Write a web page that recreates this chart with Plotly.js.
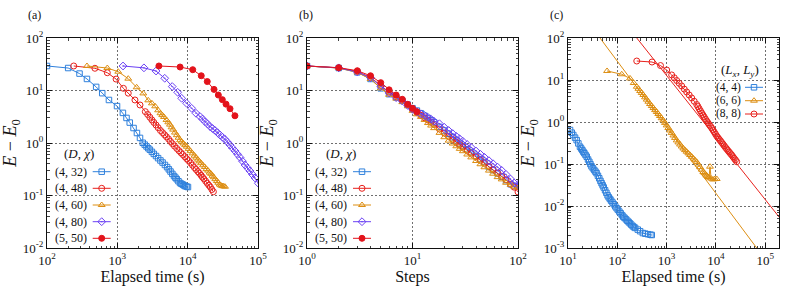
<!DOCTYPE html>
<html><head><meta charset="utf-8">
<script src="https://cdn.plot.ly/plotly-3.0.1.min.js"></script>
<style>html,body{margin:0;padding:0;background:#fff;} #chart{width:788px;height:296px;}</style>
</head><body><div id="chart"></div>
<script>
// ---------------- DATA ----------------
// Legend labels
const labelsD = ['(4, 32)', '(4, 48)', '(4, 60)', '(4, 80)', '(5, 50)'];
const labelsL = ['(4, 4)', '(6, 6)', '(8, 8)'];

// Panel (a): elapsed time (s) vs E - E0
const aT432 = [100, 200, 290, 370, 500, 610, 760, 990, 1200, 1350, 1500, 1700, 1900, 2100, 2300, 2450, 2600, 2750, 2900, 3100, 3300, 3550, 3800, 4100, 4400, 4750, 5100, 5400, 5700, 6050, 6400, 6700, 7000, 7400, 7800, 8150, 8500, 8850, 9200, 9650, 10100];
const aE432 = [29.3, 26.8, 21, 16.6, 11.7, 8.9, 6.6, 5.05, 3.75, 3.0, 2.45, 1.93, 1.55, 1.25, 1.01, 0.93, 0.86, 0.796, 0.745, 0.679, 0.62, 0.565, 0.514, 0.465, 0.424, 0.382, 0.347, 0.315, 0.286, 0.258, 0.235, 0.219, 0.204, 0.187, 0.173, 0.167, 0.162, 0.156, 0.151, 0.148, 0.145];
const aT448 = [240, 480, 720, 960, 1220, 1430, 1780, 2100, 2500, 2700, 2900, 3100, 3300, 3550, 3800, 4100, 4400, 4700, 5000, 5350, 5700, 6100, 6500, 7000, 7500, 8000, 8500, 9100, 9700, 10300, 11000, 11700, 12500, 13200, 14000, 14700, 15500, 16200, 17000, 18000, 19000, 20000, 21000, 22100, 23200];
const aE448 = [29.3, 26.5, 21.8, 16.5, 11.0, 8.9, 6.6, 5.3, 3.95, 3.5, 3.09, 2.75, 2.47, 2.2, 1.96, 1.73, 1.57, 1.43, 1.31, 1.19, 1.07, 0.966, 0.873, 0.787, 0.715, 0.655, 0.603, 0.548, 0.50, 0.46, 0.417, 0.378, 0.34, 0.312, 0.285, 0.265, 0.243, 0.224, 0.208, 0.188, 0.171, 0.157, 0.145, 0.130, 0.118];
const aT460 = [370, 720, 1030, 1430, 1880, 2340, 2750, 3100, 3450, 3800, 4100, 4350, 4600, 5000, 5300, 5600, 5900, 6200, 6600, 7000, 7400, 7800, 8200, 8700, 9200, 9700, 10300, 11000, 11700, 12500, 13200, 14000, 14700, 15500, 16500, 17500, 18500, 19500, 20500, 21500, 22500, 23500, 24700, 26000, 27200, 28500, 29700, 31000, 32500, 34000];
const aE460 = [29.3, 26.8, 22.8, 16.8, 11.5, 8.8, 6.5, 5.7, 5.0, 4.2, 3.69, 3.4, 3.13, 2.75, 2.48, 2.24, 1.99, 1.8, 1.58, 1.41, 1.26, 1.13, 1.06, 0.98, 0.91, 0.85, 0.773, 0.7, 0.635, 0.573, 0.526, 0.482, 0.447, 0.413, 0.377, 0.349, 0.318, 0.298, 0.273, 0.259, 0.238, 0.223, 0.205, 0.189, 0.175, 0.162, 0.156, 0.151, 0.150, 0.147];
const aT480 = [1205, 2390, 3550, 4720, 6030, 7210, 8220, 9680, 11400, 13140, 14970, 16250, 17650, 19170, 20790, 22580, 24490, 26590, 28850, 31280, 33980, 36830, 40020, 43450, 47130, 51150, 55500, 60200, 65370, 70900, 76900, 83500, 90600, 101000];
const aE480 = [29.3, 27.0, 23.5, 17.1, 11.9, 9.24, 7.1, 5.7, 4.58, 3.68, 3.2, 2.86, 2.55, 2.30, 2.06, 1.89, 1.73, 1.57, 1.42, 1.29, 1.17, 1.04, 0.916, 0.80, 0.705, 0.61, 0.53, 0.45, 0.381, 0.334, 0.293, 0.251, 0.216, 0.171];
const aT550 = [3900, 7800, 11800, 15600, 19000, 23700, 27300, 31100, 35100, 40000, 47000];
const aE550 = [29.3, 28, 24.9, 19.1, 14.8, 10.5, 8.2, 6.7, 5.5, 4.5, 3.3];

// Panel (b): optimisation steps vs E - E0
const bSteps = [1, 2, 3, 4, 5, 6, 7, 8, 9, 10, 11, 12, 13, 14, 15, 16, 18, 20, 22, 24, 26, 28, 30, 33, 36, 40, 44, 48, 53, 58, 64, 70, 77, 85, 92, 100];
const bE432 = [29.3, 26.8, 22.2, 16.6, 11.0, 8.5, 7.4, 6.4, 5.4, 4.6, 4.14, 3.69, 3.31, 2.99, 2.72, 2.48, 2.03, 1.73, 1.50, 1.29, 1.12, 0.975, 0.879, 0.760, 0.670, 0.571, 0.495, 0.435, 0.350, 0.305, 0.263, 0.228, 0.196, 0.164, 0.151, 0.146];
const bE448 = [29.3, 27.0, 23.0, 17.8, 12.5, 9.3, 7.6, 6.5, 5.3, 4.4, 3.78, 3.37, 3.02, 2.73, 2.48, 2.26, 1.85, 1.55, 1.34, 1.17, 1.04, 0.931, 0.839, 0.726, 0.640, 0.546, 0.473, 0.415, 0.358, 0.313, 0.269, 0.233, 0.200, 0.164, 0.144, 0.117];
const bE460 = [29.3, 26.8, 22.0, 16.5, 11.0, 8.3, 7.0, 6.0, 5.0, 4.1, 3.52, 3.14, 2.75, 2.40, 2.15, 1.92, 1.56, 1.29, 1.11, 0.977, 0.867, 0.774, 0.698, 0.604, 0.532, 0.454, 0.394, 0.345, 0.298, 0.260, 0.224, 0.203, 0.175, 0.160, 0.147, 0.141];
const bE480 = [29.3, 27.0, 22.5, 17.5, 12.0, 9.0, 7.3, 6.3, 5.2, 4.4, 3.95, 3.6, 3.35, 3.08, 2.84, 2.59, 2.33, 1.99, 1.73, 1.51, 1.34, 1.20, 1.08, 0.935, 0.824, 0.703, 0.610, 0.535, 0.461, 0.403, 0.347, 0.301, 0.252, 0.206, 0.173, 0.162];
const bSteps550 = [1, 2, 3, 4, 5, 6, 7, 8, 9, 10, 11];
const bE550 = [29.3, 27.2, 23.8, 19.1, 14.1, 10.3, 8.2, 6.8, 5.46, 4.58, 3.94];

// Panel (c): elapsed time (s) vs E - E0 for lattice sizes
const cT44 = [11.0, 11.9, 12.8, 13.9, 15.0, 16.2, 17.5, 18.5, 19.5, 20.5, 21.5, 22.7, 24, 25.5, 27, 28.5, 30, 32, 34, 36, 38, 40.5, 43, 45.5, 48, 50.5, 53, 56.5, 60, 63.5, 67, 71, 75, 80, 85, 91, 97, 103, 110, 117, 125, 132, 140, 150, 160, 170, 180, 192, 205, 217, 230, 260, 290, 330, 370, 420, 470, 500];
const cE44 = [0.645, 0.557, 0.49, 0.424, 0.37, 0.309, 0.258, 0.234, 0.214, 0.195, 0.18, 0.164, 0.149, 0.128, 0.113, 0.0993, 0.088, 0.0792, 0.072, 0.0659, 0.0605, 0.0524, 0.0457, 0.0396, 0.0349, 0.031, 0.0276, 0.0237, 0.0206, 0.0179, 0.0161, 0.0147, 0.0134, 0.0121, 0.011, 0.0098, 0.00885, 0.0081, 0.00735, 0.0067, 0.00605, 0.00557, 0.00521, 0.00481, 0.00446, 0.00415, 0.00388, 0.0036, 0.00333, 0.00315, 0.00301, 0.00274, 0.00251, 0.00227, 0.00219, 0.00213, 0.00207, 0.00204];
const cT66 = [62, 123, 181, 215, 248, 268, 290, 312, 337, 365, 395, 426, 460, 499, 540, 583, 630, 678, 730, 790, 857, 925, 1000, 1083, 1172, 1265, 1370, 1480, 1600, 1730, 1870, 2020, 2180, 2360, 2550, 2760, 2985, 3230, 3500, 3780, 4080, 4420, 4780, 5150, 5550, 5850, 6200, 6550, 6920, 7250, 7590, 8000, 8730, 9500, 10380];
const cE66 = [16.4, 13.7, 10.9, 8.49, 6.92, 6.17, 5.48, 4.92, 4.40, 3.87, 3.41, 3.04, 2.68, 2.40, 2.15, 1.92, 1.73, 1.55, 1.39, 1.23, 1.09, 0.951, 0.83, 0.721, 0.628, 0.55, 0.478, 0.418, 0.365, 0.326, 0.291, 0.261, 0.234, 0.214, 0.196, 0.179, 0.164, 0.149, 0.135, 0.123, 0.112, 0.097, 0.0843, 0.0736, 0.0646, 0.0604, 0.0562, 0.0525, 0.049, 0.0476, 0.0863, 0.045, 0.0428, 0.0437, 0.044];
const cT88 = [248, 506, 752, 1005, 1268, 1430, 1603, 1800, 2023, 2280, 2556, 2870, 3230, 3630, 4083, 4330, 4580, 4860, 5150, 5460, 5780, 6130, 6500, 6890, 7300, 7750, 8220, 8710, 9240, 9790, 10380, 11000, 11660, 12360, 13110, 13900, 14730, 15620, 16560, 17560, 18600, 19720, 20900, 22170, 23500, 24900, 26420];
const cE88 = [28.3, 26.8, 22.1, 17.3, 13.2, 11.3, 9.73, 8.37, 7.2, 6.08, 5.18, 4.40, 3.73, 3.12, 2.61, 2.33, 2.07, 1.84, 1.64, 1.47, 1.32, 1.18, 1.06, 0.962, 0.875, 0.794, 0.72, 0.645, 0.577, 0.518, 0.464, 0.425, 0.389, 0.356, 0.325, 0.298, 0.272, 0.248, 0.228, 0.209, 0.193, 0.177, 0.164, 0.149, 0.136, 0.125, 0.1135];
// power-law guide lines in (c)
const fit66T = [44.6, 67300];
const fit66E = [100, 0.001];
const fit88T = [248, 193000];
const fit88E = [100, 0.0054];
const refLevelC = 0.01;

// Tick labels
const tickA_x = [1e2, 1e3, 1e4, 1e5];
const tickA_xText = ['10<sup>2</sup>', '10<sup>3</sup>', '10<sup>4</sup>', '10<sup>5</sup>'];
const tickB_x = [1, 10, 100];
const tickB_xText = ['10<sup>0</sup>', '10<sup>1</sup>', '10<sup>2</sup>'];
const tickC_x = [10, 1e2, 1e3, 1e4, 1e5];
const tickC_xText = ['10<sup>1</sup>', '10<sup>2</sup>', '10<sup>3</sup>', '10<sup>4</sup>', '10<sup>5</sup>'];
const tickAB_y = [0.01, 0.1, 1, 10, 100];
const tickAB_yText = ['10<sup>-2</sup>', '10<sup>-1</sup>', '10<sup>0</sup>', '10<sup>1</sup>', '10<sup>2</sup>'];
const tickC_y = [0.001, 0.01, 0.1, 1, 10, 100];
const tickC_yText = ['10<sup>-3</sup>', '10<sup>-2</sup>', '10<sup>-1</sup>', '10<sup>0</sup>', '10<sup>1</sup>', '10<sup>2</sup>'];

// ---------------- STYLE ----------------
const W = 788, H = 296;
const SERIF = '"Liberation Serif", "Times New Roman", "DejaVu Serif", serif';
const C_BLUE = '#2f80dc', C_RED = '#e8211c', C_ORANGE = '#dd8e12', C_PURPLE = '#6a40f4', C_RED2 = '#e3131b';
const px = v => v / W;
const py = v => 1 - v / H;

function minorVals(lo, hi) {
  const v = [];
  for (let e = lo; e < hi; e++) for (let m = 2; m <= 9; m++) v.push(m * Math.pow(10, e));
  return v;
}

function series(x, y, xa, ya, color, symbol, size, legendId) {
  return {
    type: 'scatter', mode: 'lines+markers', x: x, y: y, xaxis: xa, yaxis: ya,
    name: '', legend: legendId, showlegend: true, hoverinfo: 'skip',
    line: {color: color, width: 1},
    marker: {symbol: symbol, size: size, color: color, line: {color: color, width: 1}}
  };
}

const traces = [
  series(aT432, aE432, 'x', 'y', C_BLUE, 'square-open', 5.5, 'legend'),
  series(aT448, aE448, 'x', 'y', C_RED, 'circle-open', 6, 'legend2'),
  series(aT460, aE460, 'x', 'y', C_ORANGE, 'triangle-up-open', 6, 'legend3'),
  series(aT480, aE480, 'x', 'y', C_PURPLE, 'diamond-open-dot', 6, 'legend4'),
  series(aT550, aE550, 'x', 'y', C_RED2, 'circle', 6, 'legend5'),

  series(bSteps, bE432, 'x2', 'y2', C_BLUE, 'square-open', 5.5, 'legend6'),
  series(bSteps, bE448, 'x2', 'y2', C_RED, 'circle-open', 6, 'legend7'),
  series(bSteps, bE460, 'x2', 'y2', C_ORANGE, 'triangle-up-open', 6, 'legend8'),
  series(bSteps, bE480, 'x2', 'y2', C_PURPLE, 'diamond-open-dot', 6, 'legend9'),
  series(bSteps550, bE550, 'x2', 'y2', C_RED2, 'circle', 6, 'legend10'),

  {type: 'scatter', mode: 'lines', x: fit66T, y: fit66E, xaxis: 'x3', yaxis: 'y3', showlegend: false, hoverinfo: 'skip', line: {color: C_ORANGE, width: 1}},
  {type: 'scatter', mode: 'lines', x: fit88T, y: fit88E, xaxis: 'x3', yaxis: 'y3', showlegend: false, hoverinfo: 'skip', line: {color: C_RED, width: 1}},
  series(cT44, cE44, 'x3', 'y3', C_BLUE, 'square-open', 5.5, 'legend11'),
  series(cT66, cE66, 'x3', 'y3', C_ORANGE, 'triangle-up-open', 6, 'legend12'),
  series(cT88, cE88, 'x3', 'y3', C_RED, 'circle-open', 6, 'legend13')
];

function axis(domain, anchor, range, tv, tt, minorLo, minorHi, title, isY) {
  const a = {
    type: 'log', domain: domain, anchor: anchor, range: range,
    showline: true, linecolor: '#111', linewidth: 1, mirror: 'allticks',
    ticks: 'inside', ticklen: 5, tickwidth: 1, tickcolor: '#111',
    showgrid: true, gridcolor: '#6f6f6f', gridwidth: 1, griddash: '2px,2px',
    zeroline: false, tickmode: 'array', tickvals: tv, ticktext: tt,
    tickfont: {family: SERIF, size: 13, color: '#111'},
    minor: {tickmode: 'array', tickvals: minorVals(minorLo, minorHi), ticks: 'inside', ticklen: 2.5, tickwidth: 0.8, tickcolor: '#111', showgrid: false},
    fixedrange: true
  };
  if (isY) a.title = {text: title, font: {family: SERIF, size: 18, color: '#111'}, standoff: 4};
  else a.title = {text: title, font: {family: SERIF, size: 16, color: '#111'}, standoff: 4};
  return a;
}

const yDom = [py(248), py(38)];
const yTitle = '<i>E</i> − <i>E</i><sub>0</sub>';

const layout = {
  width: W, height: H, autosize: false,
  margin: {l: 0, r: 0, t: 0, b: 0},
  paper_bgcolor: '#fff', plot_bgcolor: '#fff',
  hovermode: false,
  font: {family: SERIF, color: '#111'},
  xaxis: axis([px(47), px(258)], 'y', [2, 5], tickA_x, tickA_xText, 1, 6, 'Elapsed time (s)', false),
  yaxis: axis(yDom, 'x', [-2, 2], tickAB_y, tickAB_yText, -3, 3, yTitle, true),
  xaxis2: axis([px(307), px(518)], 'y2', [0, 2], tickB_x, tickB_xText, -1, 3, 'Steps', false),
  yaxis2: axis(yDom, 'x2', [-2, 2], tickAB_y, tickAB_yText, -3, 3, yTitle, true),
  xaxis3: axis([px(568), px(779)], 'y3', [1, 1 + 211 / 49.3], tickC_x, tickC_xText, 0, 6, 'Elapsed time (s)', false),
  yaxis3: axis(yDom, 'x3', [-3, 2], tickC_y, tickC_yText, -4, 3, yTitle, true),
  shapes: [{type: 'line', xref: 'x3 domain', yref: 'y3', x0: 0, x1: 1, y0: Math.log10(refLevelC), y1: Math.log10(refLevelC), line: {color: '#4a4a4a', width: 1.5}, layer: 'below'}],
  annotations: []
};

// legends: one per entry, symbol placed right of the text label
const rowsAB = [171.7, 188.3, 205, 221.7, 238.3];
const rowsC = [87.3, 100.7, 114];
function mkLegend(markerPx, rowPy) {
  return {x: px(markerPx - 20), y: py(rowPy - 14.5), xanchor: 'left', yanchor: 'top',
          bgcolor: 'rgba(0,0,0,0)', borderwidth: 0, font: {size: 10, family: SERIF}, itemwidth: 30,
          itemclick: false, itemdoubleclick: false};
}
const legendIds = ['legend', 'legend2', 'legend3', 'legend4', 'legend5', 'legend6', 'legend7', 'legend8', 'legend9', 'legend10', 'legend11', 'legend12', 'legend13'];
for (let i = 0; i < 5; i++) layout[legendIds[i]] = mkLegend(101.7, rowsAB[i]);
for (let i = 0; i < 5; i++) layout[legendIds[5 + i]] = mkLegend(362, rowsAB[i]);
for (let i = 0; i < 3; i++) layout[legendIds[10 + i]] = mkLegend(754, rowsC[i]);

function ann(text, x, y, xanchor, size) {
  return {text: text, x: px(x), y: py(y), xref: 'paper', yref: 'paper', xanchor: xanchor, yanchor: 'middle',
          showarrow: false, font: {family: SERIF, size: size, color: '#111'}};
}
for (let i = 0; i < 5; i++) {
  layout.annotations.push(ann(labelsD[i], 89, rowsAB[i], 'right', 12));
  layout.annotations.push(ann(labelsD[i], 349, rowsAB[i], 'right', 12));
}
for (let i = 0; i < 3; i++) layout.annotations.push(ann(labelsL[i], 743, rowsC[i], 'right', 11.5));
layout.annotations.push(ann('(<i>D</i>, <i>χ</i>)', 79, 153, 'center', 13));
layout.annotations.push(ann('(<i>D</i>, <i>χ</i>)', 341, 153, 'center', 13));
layout.annotations.push(ann('(<i>L</i><sub><i>x</i></sub>, <i>L</i><sub><i>y</i></sub>)', 740, 70, 'center', 13));
layout.annotations.push(ann('(a)', 34, 15, 'center', 12));
layout.annotations.push(ann('(b)', 306, 15, 'center', 12));
layout.annotations.push(ann('(c)', 556, 15, 'center', 12));

function shortenKeyLines() {
  // compact key: shorter sample lines centred on the marker
  document.querySelectorAll('g.legendlines path, g.legend path.js-line').forEach(function (p) {
    p.setAttribute('d', 'M11,0h18');
  });
}
Plotly.newPlot('chart', traces, layout, {staticPlot: true, displayModeBar: false}).then(function () {
  shortenKeyLines();
  setTimeout(shortenKeyLines, 50);
});
</script></body></html>
